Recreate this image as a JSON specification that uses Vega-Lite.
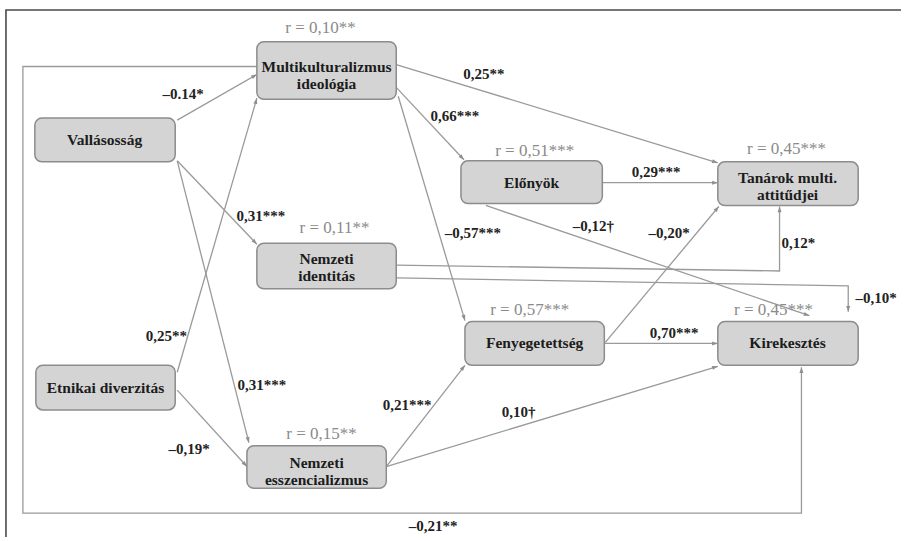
{
  "$schema": "https://vega.github.io/schema/vega-lite/v6.json",
  "width": 905,
  "height": 541,
  "padding": 0,
  "autosize": {"type": "fit", "contains": "padding"},
  "background": "white",
  "config": {"view": {"stroke": null}},
  "datasets": {
    "frame": [
      {"side": "outer", "seq": 1, "x": 905, "y": 10},
      {"side": "outer", "seq": 2, "x": 6, "y": 10},
      {"side": "outer", "seq": 3, "x": 6, "y": 541}
    ],
    "paths": [
      {"path": "p1", "seq": 1, "x": 178, "y": 121}, {"path": "p1", "seq": 2, "x": 258, "y": 75},
      {"path": "p2", "seq": 1, "x": 178, "y": 162}, {"path": "p2", "seq": 2, "x": 258, "y": 246},
      {"path": "p3", "seq": 1, "x": 178, "y": 162}, {"path": "p3", "seq": 2, "x": 250, "y": 446},
      {"path": "p4", "seq": 1, "x": 178, "y": 375}, {"path": "p4", "seq": 2, "x": 258, "y": 99},
      {"path": "p5", "seq": 1, "x": 178, "y": 393}, {"path": "p5", "seq": 2, "x": 248, "y": 470},
      {"path": "p6", "seq": 1, "x": 398, "y": 65}, {"path": "p6", "seq": 2, "x": 721, "y": 164},
      {"path": "p7", "seq": 1, "x": 398, "y": 88}, {"path": "p7", "seq": 2, "x": 466, "y": 161},
      {"path": "p8", "seq": 1, "x": 400, "y": 97}, {"path": "p8", "seq": 2, "x": 467, "y": 323},
      {"path": "p9", "seq": 1, "x": 605, "y": 184}, {"path": "p9", "seq": 2, "x": 721, "y": 184},
      {"path": "p10", "seq": 1, "x": 488, "y": 207}, {"path": "p10", "seq": 2, "x": 813, "y": 318},
      {"path": "p11", "seq": 1, "x": 608, "y": 345}, {"path": "p11", "seq": 2, "x": 722, "y": 208},
      {"path": "p12", "seq": 1, "x": 607, "y": 346}, {"path": "p12", "seq": 2, "x": 721, "y": 346},
      {"path": "p13", "seq": 1, "x": 388, "y": 470}, {"path": "p13", "seq": 2, "x": 467, "y": 368},
      {"path": "p14", "seq": 1, "x": 388, "y": 470}, {"path": "p14", "seq": 2, "x": 721, "y": 369},
      {"path": "p15", "seq": 1, "x": 398, "y": 267}, {"path": "p15", "seq": 2, "x": 783, "y": 273}, {"path": "p15", "seq": 3, "x": 783, "y": 208},
      {"path": "p16", "seq": 1, "x": 398, "y": 280}, {"path": "p16", "seq": 2, "x": 852, "y": 288}, {"path": "p16", "seq": 3, "x": 852, "y": 314},
      {"path": "p17", "seq": 1, "x": 258, "y": 67}, {"path": "p17", "seq": 2, "x": 23, "y": 67}, {"path": "p17", "seq": 3, "x": 23, "y": 517}, {"path": "p17", "seq": 4, "x": 805, "y": 517}, {"path": "p17", "seq": 5, "x": 805, "y": 370}
    ],
    "arrows": [
      {"path": "p1", "x": 258, "y": 75, "heading": 60.1},
      {"path": "p2", "x": 258, "y": 246, "heading": 136.4},
      {"path": "p3", "x": 250, "y": 446, "heading": 165.8},
      {"path": "p4", "x": 258, "y": 99, "heading": 16.2},
      {"path": "p5", "x": 248, "y": 470, "heading": 137.7},
      {"path": "p6", "x": 721, "y": 164, "heading": 107.0},
      {"path": "p7", "x": 466, "y": 161, "heading": 137.0},
      {"path": "p8", "x": 467, "y": 323, "heading": 163.5},
      {"path": "p9", "x": 721, "y": 184, "heading": 90},
      {"path": "p10", "x": 813, "y": 318, "heading": 108.9},
      {"path": "p11", "x": 722, "y": 208, "heading": 39.8},
      {"path": "p12", "x": 721, "y": 346, "heading": 90},
      {"path": "p13", "x": 467, "y": 368, "heading": 37.8},
      {"path": "p14", "x": 721, "y": 369, "heading": 73.1},
      {"path": "p15", "x": 783, "y": 208, "heading": 0},
      {"path": "p16", "x": 852, "y": 314, "heading": 180},
      {"path": "p17", "x": 805, "y": 370, "heading": 0}
    ],
    "nodes": [
      {"id": "multi", "label": "Multikulturalizmus\nideológia", "x1": 258, "x2": 398, "y1": 42, "y2": 100, "lx": 328, "ly": 67},
      {"id": "vall", "label": "Vallásosság", "x1": 35, "x2": 176, "y1": 119, "y2": 163, "lx": 105, "ly": 141},
      {"id": "nemzid", "label": "Nemzeti\nidentitás", "x1": 258, "x2": 398, "y1": 245, "y2": 291, "lx": 328, "ly": 261},
      {"id": "etn", "label": "Etnikai diverzitás", "x1": 36, "x2": 176, "y1": 368, "y2": 413, "lx": 106, "ly": 391},
      {"id": "essz", "label": "Nemzeti\nesszencializmus", "x1": 248, "x2": 388, "y1": 449, "y2": 492, "lx": 318, "ly": 466},
      {"id": "elo", "label": "Előnyök", "x1": 463, "x2": 605, "y1": 162, "y2": 205, "lx": 534, "ly": 184},
      {"id": "tan", "label": "Tanárok multi.\nattitűdjei", "x1": 721, "x2": 862, "y1": 163, "y2": 207, "lx": 791, "ly": 179},
      {"id": "feny", "label": "Fenyegetettség", "x1": 467, "x2": 607, "y1": 324, "y2": 368, "lx": 537, "ly": 346},
      {"id": "kir", "label": "Kirekesztés", "x1": 721, "x2": 862, "y1": 324, "y2": 368, "lx": 791, "ly": 346}
    ],
    "rlabels": [
      {"text": "r = 0,10**", "x": 322, "y": 28},
      {"text": "r = 0,11**", "x": 336, "y": 230},
      {"text": "r = 0,15**", "x": 323, "y": 437},
      {"text": "r = 0,51***", "x": 537, "y": 152},
      {"text": "r = 0,45***", "x": 790, "y": 150},
      {"text": "r = 0,57***", "x": 532, "y": 312},
      {"text": "r = 0,45***", "x": 777, "y": 312}
    ],
    "elabels": [
      {"text": "–0.14*", "x": 184, "y": 95},
      {"text": "0,31***", "x": 262, "y": 218},
      {"text": "0,31***", "x": 263, "y": 388},
      {"text": "0,25**", "x": 167, "y": 338},
      {"text": "–0,19*", "x": 190, "y": 452},
      {"text": "0,25**", "x": 486, "y": 75},
      {"text": "0,66***", "x": 457, "y": 117},
      {"text": "–0,57***", "x": 475, "y": 235},
      {"text": "0,29***", "x": 659, "y": 173},
      {"text": "–0,12†", "x": 596, "y": 228},
      {"text": "–0,20*", "x": 672, "y": 235},
      {"text": "0,70***", "x": 677, "y": 335},
      {"text": "0,21***", "x": 409, "y": 408},
      {"text": "0,10†", "x": 521, "y": 415},
      {"text": "0,12*", "x": 802, "y": 245},
      {"text": "–0,10*", "x": 880, "y": 300},
      {"text": "–0,21**", "x": 435, "y": 530}
    ]
  },
  "layer": [
    {
      "data": {"name": "frame"},
      "mark": {"type": "line", "color": "#4a4a4a", "strokeWidth": 1.6},
      "encoding": {
        "x": {"field": "x", "type": "quantitative", "scale": {"domain": [0, 905], "nice": false, "zero": false}, "axis": null},
        "y": {"field": "y", "type": "quantitative", "scale": {"domain": [0, 541], "nice": false, "zero": false, "reverse": true}, "axis": null},
        "detail": {"field": "side"},
        "order": {"field": "seq"}
      }
    },
    {
      "data": {"name": "paths"},
      "mark": {"type": "line", "color": "#9a9a9a", "strokeWidth": 1.3},
      "encoding": {
        "x": {"field": "x", "type": "quantitative", "axis": null},
        "y": {"field": "y", "type": "quantitative", "axis": null},
        "detail": {"field": "path"},
        "order": {"field": "seq"}
      }
    },
    {
      "data": {"name": "nodes"},
      "mark": {"type": "rect", "cornerRadius": 7, "fill": "#d4d4d4", "stroke": "#8c8c8c", "strokeWidth": 1.5},
      "encoding": {
        "x": {"field": "x1", "type": "quantitative", "axis": null},
        "x2": {"field": "x2"},
        "y": {"field": "y1", "type": "quantitative", "axis": null},
        "y2": {"field": "y2"}
      }
    },
    {
      "data": {"name": "arrows"},
      "mark": {"type": "point", "shape": "M0,0L-0.6,1.7L0.6,1.7Z", "filled": true, "color": "#8f8f8f", "size": 45, "opacity": 1},
      "encoding": {
        "x": {"field": "x", "type": "quantitative", "axis": null},
        "y": {"field": "y", "type": "quantitative", "axis": null},
        "angle": {"field": "heading", "type": "quantitative", "scale": null}
      }
    },
    {
      "data": {"name": "nodes"},
      "mark": {"type": "text", "font": "'Liberation Serif', 'DejaVu Serif', serif", "fontWeight": "bold", "fontSize": 15.5, "color": "#1c1c1c", "align": "center", "baseline": "middle", "lineBreak": "\n", "lineHeight": 17},
      "encoding": {
        "x": {"field": "lx", "type": "quantitative", "axis": null},
        "y": {"field": "ly", "type": "quantitative", "axis": null},
        "text": {"field": "label"}
      }
    },
    {
      "data": {"name": "rlabels"},
      "mark": {"type": "text", "font": "'Liberation Serif', 'DejaVu Serif', serif", "fontSize": 17, "color": "#8a8a8a", "align": "center", "baseline": "middle"},
      "encoding": {
        "x": {"field": "x", "type": "quantitative", "axis": null},
        "y": {"field": "y", "type": "quantitative", "axis": null},
        "text": {"field": "text"}
      }
    },
    {
      "data": {"name": "elabels"},
      "mark": {"type": "text", "font": "'Liberation Serif', 'DejaVu Serif', serif", "fontWeight": "bold", "fontSize": 15, "color": "#222222", "align": "center", "baseline": "middle"},
      "encoding": {
        "x": {"field": "x", "type": "quantitative", "axis": null},
        "y": {"field": "y", "type": "quantitative", "axis": null},
        "text": {"field": "text"}
      }
    }
  ]
}
